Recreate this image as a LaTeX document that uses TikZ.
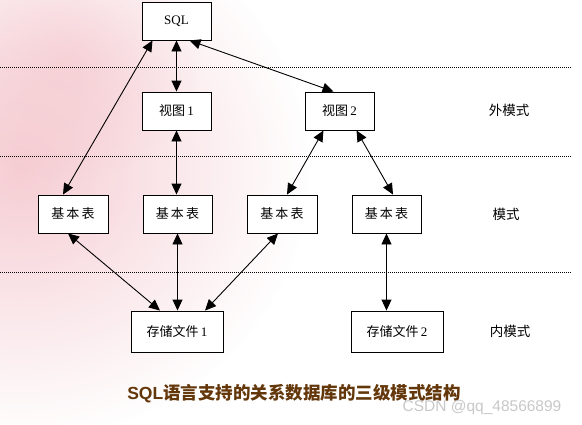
\documentclass[tikz,border=0pt]{standalone}
\usepackage{fontspec}
\setmainfont{Liberation Serif}
\newfontfamily\cjk{Noto Sans CJK SC}
\newfontfamily\arialf{Liberation Sans}
\usetikzlibrary{arrows.meta,fadings}
\definecolor{bgpink}{RGB}{238,165,176}
\definecolor{titlebrown}{RGB}{100,55,10}
\definecolor{wmgray}{RGB}{200,200,200}
\tikzfading[name=softfade, inner color=transparent!45, outer color=transparent!100]
\begin{document}
\begin{tikzpicture}[x=1pt,y=-1pt,
  box/.style={draw, line width=0.9pt, fill=white, minimum height=38pt, inner sep=0pt,
              font=\fontsize{13}{15}\selectfont},
  dbl/.style={line width=0.9pt, {Triangle[length=11pt,width=10pt]}-{Triangle[length=11pt,width=10pt]}},
  sepline/.style={line width=0.8pt, dash pattern=on 1pt off 1pt},
  lvl/.style={font=\cjk\fontsize{13.5}{15}\selectfont}]
\useasboundingbox (0,0) rectangle (582,424);
% background
\fill[white] (0,0) rectangle (582,424);
\begin{scope}
  \clip (0,0) rectangle (582,424);
  \fill[bgpink, path fading=softfade] (20,170) ellipse [x radius=290, y radius=270];
  \fill[bgpink, path fading=softfade, opacity=0.5] (70,60) ellipse [x radius=130, y radius=120];
\end{scope}
% level separators
\draw[sepline] (0,67) -- (572,67);
\draw[sepline] (0,156) -- (572,156);
\draw[sepline] (0,272) -- (572,272);
% nodes
\node[box, minimum width=69pt] (sql) at (176.5,21) {SQL};
\node[box, minimum width=69pt] (v1) at (176.5,111) {{\cjk 视图}\,1};
\node[box, minimum width=69pt] (v2) at (339.5,111) {{\cjk 视图}\,2};
\node[box, minimum width=70pt] (t1) at (73,214) {\cjk 基\,本\,表};
\node[box, minimum width=69pt] (t2) at (177.5,214) {\cjk 基\,本\,表};
\node[box, minimum width=70pt] (t3) at (282,214) {\cjk 基\,本\,表};
\node[box, minimum width=69pt] (t4) at (386.5,214) {\cjk 基\,本\,表};
\node[box, minimum width=92pt, minimum height=41pt] (f1) at (177,331.5) {{\cjk 存储文件}\,1};
\node[box, minimum width=92pt, minimum height=41pt] (f2) at (397,331.5) {{\cjk 存储文件}\,2};
% level labels
\node[lvl] (lext) at (509,110) {外模式};
\node[lvl] (lcon) at (506,214) {模式};
\node[lvl] (lint) at (510,331) {内模式};
% connectors
\draw[dbl] (sql.south) -- (v1.north);
\draw[dbl] ([xshift=13pt]sql.south) -- ([xshift=-6pt]v2.north);
\draw[dbl] ([xshift=-24pt]sql.south) -- ([xshift=-10pt]t1.north);
\draw[dbl] (v1.south) -- (v1.south |- t2.north);
\draw[dbl] ([xshift=-16pt]v2.south) -- ([xshift=5pt]t3.north);
\draw[dbl] ([xshift=17pt]v2.south) -- ([xshift=6.5pt]t4.north);
\draw[dbl] ([xshift=-5pt]t1.south) -- ([xshift=-17pt]f1.north);
\draw[dbl] (t2.south) -- (t2.south |- f1.north);
\draw[dbl] ([xshift=-4pt]t3.south) -- ([xshift=28pt]f1.north);
\draw[dbl] (t4.south) -- (t4.south |- f2.north);
% title and watermark
\node[text=titlebrown, font=\fontsize{17.5}{20}\selectfont\bfseries] (title) at (294,394)
  {{\arialf SQL}{\cjk 语言支持的关系数据库的三级模式结构}};
\node[text=wmgray, font=\arialf\fontsize{15.5}{18}\selectfont] (wm) at (482,407) {CSDN @qq\_48566899};
\end{tikzpicture}
\end{document}
